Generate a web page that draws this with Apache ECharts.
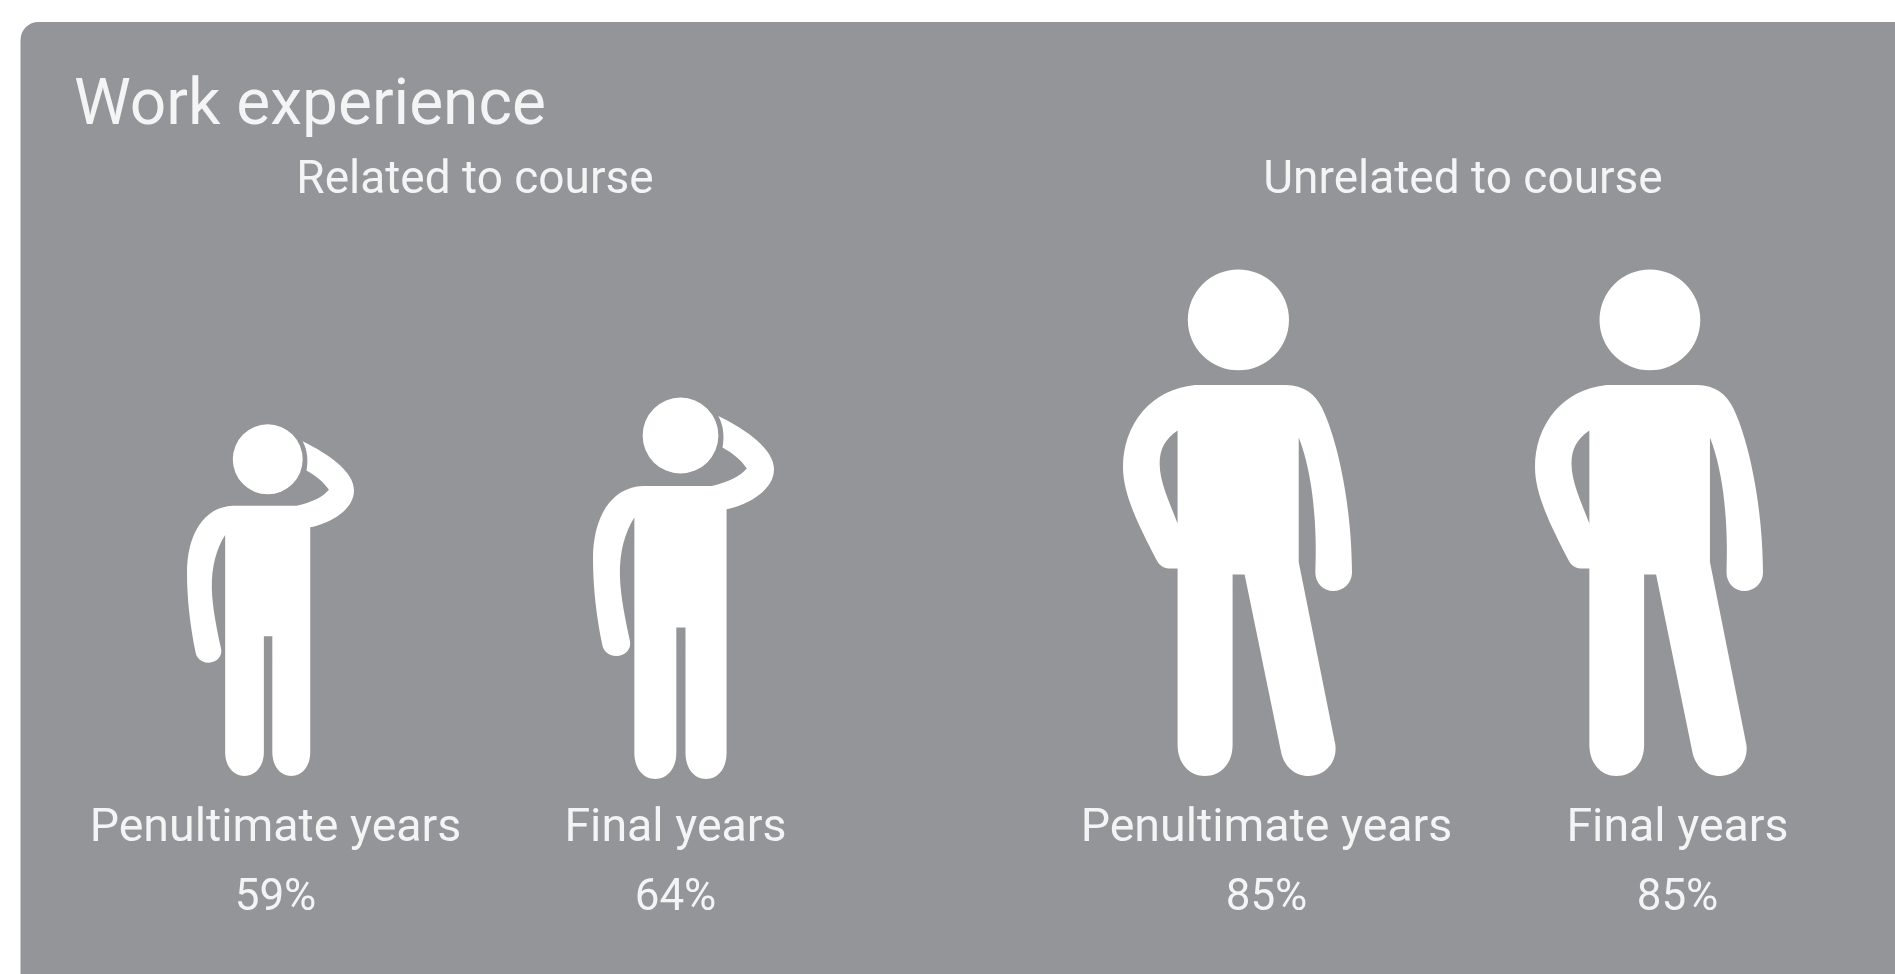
<!DOCTYPE html>
<html>
<head>
<meta charset="utf-8">
<title>Work experience</title>
<script src="https://cdn.jsdelivr.net/npm/echarts@6/dist/echarts.min.js"></script>
<style>
  html, body { margin: 0; padding: 0; background: #fff; }
  #chart { width: 1895px; height: 974px; }
</style>
</head>
<body>
<div id="chart"></div>
<script>
const chartTitle = 'Work experience'
const groups = ['Related to course', 'Unrelated to course']
const years = ['Penultimate years', 'Final years']
const relatedValues = [59, 64]
const unrelatedValues = [85, 85]

// figure outlines, scaled by the library to each bar's length
const scratchingPerson = 'path://M49.8 38.3A38 38 0 1 1 125.8 38.3A38 38 0 1 1 49.8 38.3Z' +
    'M50 88.7L119.3 88.7C135 85 147 80 154.3 71.3C148 62 140 56 129.9 50.3C132 40 131 28 125.7 18.7' +
    'C155 33 181.6 52 181.6 72C181.6 92 158 107 134 112L134 356C134 372 125 382 113.4 382C102 382 92.8 372 92.8 356' +
    'L92.8 230.3L83.6 230.3L83.6 356C83.6 372 74 382 62.5 382C51 382 41.5 372 41.5 356L41.5 120.3' +
    'C32 135 26.5 155 27 178.7C27.5 200 33 225 37 243.7C39 252 32 259 23.5 259C15 259 10.5 253 9.5 248.7' +
    'C3.5 220 0 190 0 162C0 120 18 90 50 88.7Z'
const standingPerson = 'path://M64.7 50.7A50.5 50.5 0 1 1 165.7 50.7A50.5 50.5 0 1 1 64.7 50.7Z' +
    'M72 115.8L163 115.8C180 115.8 192 125 198.6 138.6C215 172 228.6 240 228.6 303.5C228.6 314 220 322 209.8 322' +
    'C200 322 192 314 192 303.5C194 260 190 205 175.4 168.4L175.4 293L212 476C214 493 202 507 185.3 507' +
    'C171 507 161 497 158 484L121.4 305.3L109.4 305.3L109.4 476C109.4 494 98 507 81.7 507' +
    'C66 507 54.5 494 54.5 476L54.5 299.3L46 299.3C40 299.3 36 296 33.5 291C15 255 0 225 0 198.2' +
    'C0 155 28 120 72 115.8Z' +
    'M54.5 161.4C42 170 36.6 180 36.6 194.7C36.6 212 45 230 54.5 254.4L54.5 161.4Z'

const textColor = '#f4f4f5'
const fontFamily = 'Roboto'
const fontWeight = 400

const makeXAxis = (gridIndex, values) => ({
    type: 'category',
    gridIndex,
    data: years,
    axisLine: { show: false },
    axisTick: { show: false },
    axisLabel: {
        color: textColor,
        fontFamily,
        fontWeight,
        margin: 18,
        interval: 0,
        formatter: (name, i) => '{name|' + name + '}\n{pct|' + values[i] + '%}',
        rich: {
            name: { color: textColor, fontFamily, fontWeight, fontSize: 46.5, lineHeight: 70 },
            pct: { color: textColor, fontFamily, fontWeight, fontSize: 44, lineHeight: 70 }
        }
    }
})

const makeYAxis = (gridIndex) => ({ type: 'value', gridIndex, min: 0, max: 100, show: false })

const makeSeries = (axisIndex, values, symbol, widths, offsets) => ({
    type: 'pictorialBar',
    xAxisIndex: axisIndex,
    yAxisIndex: axisIndex,
    symbol,
    symbolPosition: 'start',
    itemStyle: { color: '#ffffff' },
    data: values.map((value, i) => ({
        value,
        symbolSize: [widths[i], '100%'],
        symbolOffset: offsets[i]
    }))
})

const chart = echarts.init(document.getElementById('chart'))
chart.setOption({
    animation: false,
    backgroundColor: '#ffffff',
    title: [
        { text: chartTitle, left: 69, top: 71, textStyle: { color: textColor, fontFamily, fontWeight, fontSize: 64 } },
        { text: groups[0], left: 470, top: 153, textAlign: 'center', textStyle: { color: textColor, fontFamily, fontWeight, fontSize: 46 } },
        { text: groups[1], left: 1458, top: 153, textAlign: 'center', textStyle: { color: textColor, fontFamily, fontWeight, fontSize: 46 } }
    ],
    graphic: [{
        type: 'rect',
        z: -10,
        left: 20.5,
        top: 22,
        shape: { width: 1900, height: 970, r: 18 },
        style: { fill: '#939598' }
    }],
    grid: [
        { left: 75.5, width: 800, top: 180, bottom: 198 },
        { left: 1061, width: 822, top: 180, bottom: 198 }
    ],
    xAxis: [makeXAxis(0, relatedValues), makeXAxis(1, unrelatedValues)],
    yAxis: [makeYAxis(0), makeYAxis(1)],
    series: [
        makeSeries(0, relatedValues, scratchingPerson, [167, 181], [[-5, 0], [8, 3]]),
        makeSeries(1, unrelatedValues, standingPerson, [229, 228], [[-29, 0], [-28.5, 0]])
    ]
})
</script>
</body>
</html>
